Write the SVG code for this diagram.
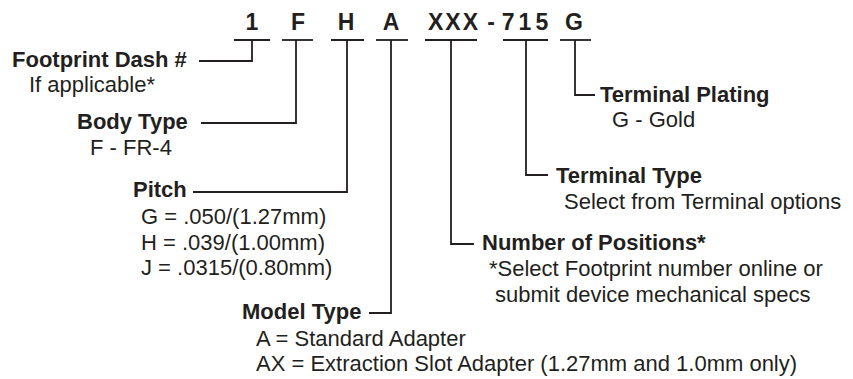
<svg xmlns="http://www.w3.org/2000/svg" width="853" height="379" viewBox="0 0 853 379">
<style>
text{font-family:"Liberation Sans",Arial,Helvetica,sans-serif;font-size:22px;fill:#231f20}
.b{font-weight:bold}
.code{font-weight:bold;font-size:23px;text-anchor:middle}
.ln{stroke:#231f20;stroke-width:1.8;fill:none}
</style>
<rect width="853" height="379" fill="#ffffff"/>
<g id="code">
<g id="c1"><text class="code" x="252" y="30">1</text><line class="ln" x1="234" y1="40" x2="270" y2="40"/></g>
<g id="cF"><text class="code" x="298" y="30">F</text><line class="ln" x1="282" y1="40" x2="313" y2="40"/></g>
<g id="cH"><text class="code" x="346" y="30">H</text><line class="ln" x1="331" y1="40" x2="364" y2="40"/></g>
<g id="cA"><text class="code" x="391" y="30">A</text><line class="ln" x1="376" y1="40" x2="408" y2="40"/></g>
<g id="cX"><text class="code" x="454" y="30" letter-spacing="2">XXX</text><line class="ln" x1="425" y1="40" x2="477" y2="40"/></g>
<g id="cDash"><text class="code" x="491" y="30">-</text></g>
<g id="c715"><text class="code" x="527" y="30" letter-spacing="4">715</text><line class="ln" x1="503" y1="40" x2="548" y2="40"/></g>
<g id="cG"><text class="code" x="574" y="30">G</text><line class="ln" x1="560" y1="40" x2="591" y2="40"/></g>
</g>
<g id="connectors">
<path class="ln" d="M252 40V61H199"/>
<path class="ln" d="M296 40V123H201"/>
<path class="ln" d="M347 40V192H193"/>
<path class="ln" d="M391 40V313H369"/>
<path class="ln" d="M451 40V244H474"/>
<path class="ln" d="M526 40V175H548"/>
<path class="ln" d="M575 40V95H595"/>
</g>
<g id="footprint"><text class="b" x="12" y="67">Footprint Dash #</text><text x="29" y="92">If applicable*</text></g>
<g id="body"><text class="b" x="77" y="129">Body Type</text><text x="90" y="155">F - FR-4</text></g>
<g id="pitch"><text class="b" x="133" y="197">Pitch</text><text x="141" y="224">G = .050/(1.27mm)</text><text x="141" y="250">H = .039/(1.00mm)</text><text x="141" y="275">J = .0315/(0.80mm)</text></g>
<g id="model"><text class="b" x="242" y="319">Model Type</text><text x="256" y="346">A = Standard Adapter</text><text x="256" y="371">AX = Extraction Slot Adapter (1.27mm and 1.0mm only)</text></g>
<g id="positions"><text class="b" x="482" y="250">Number of Positions*</text><text x="489" y="276">*Select Footprint number online or</text><text x="495" y="302">submit device mechanical specs</text></g>
<g id="termtype"><text class="b" x="556" y="183">Terminal Type</text><text x="564" y="209">Select from Terminal options</text></g>
<g id="plating"><text class="b" x="600" y="102">Terminal Plating</text><text x="612" y="127">G - Gold</text></g>
</svg>
